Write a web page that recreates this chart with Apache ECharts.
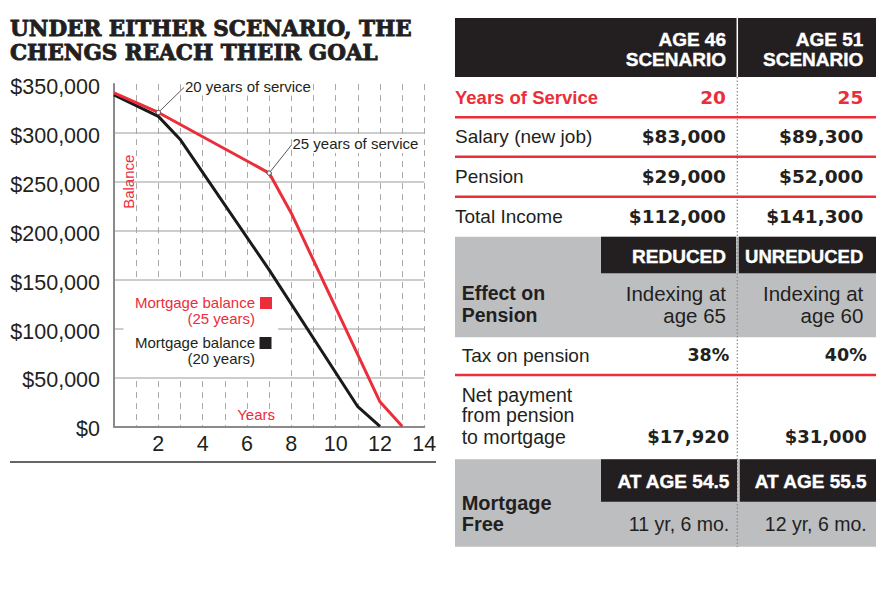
<!DOCTYPE html>
<html>
<head>
<meta charset="utf-8">
<script src="https://cdn.jsdelivr.net/npm/echarts@6/dist/echarts.min.js"></script>
<style>
  html, body { margin: 0; padding: 0; background: #fff; }
  #chart { width: 885px; height: 600px; }
</style>
</head>
<body>
<div id="chart"></div>
<script>
// ---------- data ----------
const titleLines = ['UNDER EITHER SCENARIO, THE', 'CHENGS REACH THEIR GOAL'];
const red25Years = [0, 2, 7, 8, 12, 13];
const red25Balance = [341000, 321000, 259000, 218000, 25000, 0];
const black20Years = [0, 2, 3, 7, 11, 12];
const black20Balance = [339000, 317000, 293000, 160000, 20000, 0];
const seriesNames = ['Mortgage balance (25 years)', 'Mortgage balance (20 years)'];
const legendLines25 = ['Mortgage balance', '(25 years)'];
const legendLines20 = ['Mortgage balance', '(20 years)'];
const annot20 = '20 years of service';
const annot25 = '25 years of service';
const xTickLabels = ['2', '4', '6', '8', '10', '12', '14'];
const yAxisName = 'Balance';
const xAxisName = 'Years';

const topHeads = [['AGE 46', 'SCENARIO'], ['AGE 51', 'SCENARIO']];
const topRowLabels = ['Years of Service', 'Salary (new job)', 'Pension', 'Total Income'];
const age46Values = ['20', '$83,000', '$29,000', '$112,000'];
const age51Values = ['25', '$89,300', '$52,000', '$141,300'];
const effectHeads = ['REDUCED', 'UNREDUCED'];
const effectLabel = ['Effect on', 'Pension'];
const effectValues = [['Indexing at', 'age 65'], ['Indexing at', 'age 60']];
const taxLabel = 'Tax on pension';
const taxValues = ['38%', '40%'];
const netLabel = ['Net payment', 'from pension', 'to mortgage'];
const netValues = ['$17,920', '$31,000'];
const freeHeads = ['AT AGE 54.5', 'AT AGE 55.5'];
const freeLabel = ['Mortgage', 'Free'];
const freeValues = ['11 yr, 6 mo.', '12 yr, 6 mo.'];

// ---------- styles ----------
const RED = '#ec2d3a';
const DARK = '#231f20';
const GRAY = '#bcbec0';
const SANS = '"Liberation Sans", Arial, sans-serif';
const NUM = '"DejaVu Sans", sans-serif';

function txt(text, x, y, font, fill, align, z, strokeW) {
  const st = { text: text, x: x, y: y, font: font, fill: fill,
    align: align || 'left', textAlign: align || 'left',
    verticalAlign: 'middle', textVerticalAlign: 'middle' };
  if (strokeW) { st.stroke = fill; st.lineWidth = strokeW; }
  return { type: 'text', z: z || 10, style: st };
}
function rect(x, y, w, h, fill, z) {
  return { type: 'rect', z: z || 5, shape: { x: x, y: y, width: w, height: h }, style: { fill: fill } };
}
function hline(x1, x2, y, color, w, z) {
  return { type: 'line', z: z || 6, shape: { x1: x1, y1: y, x2: x2, y2: y }, style: { stroke: color, lineWidth: w } };
}

// ---------- table graphics ----------
const g = [];
// title
g.push(txt(titleLines[0], 10, 28, 'bold 21.5px "DejaVu Serif", serif', DARK, 'left', 10, 0.9));
g.push(txt(titleLines[1], 10, 52.5, 'bold 21.5px "DejaVu Serif", serif', DARK, 'left', 10, 0.9));
// rule under chart
g.push(hline(10, 436, 462, '#333', 1.5));

const TL = 455, TR = 876, DIV = 737.3;
const C1 = 726, C2 = 863.3, C1b = 729.3, C2b = 866.7;
// dotted divider
g.push({ type: 'line', z: 7, shape: { x1: DIV, y1: 77, x2: DIV, y2: 547 }, style: { stroke: '#888', lineWidth: 1.2, lineDash: [1.5, 2] } });
// top header
g.push(rect(TL, 18, TR - TL, 59, DARK, 8));
g.push({ type: 'line', z: 9, shape: { x1: DIV, y1: 18, x2: DIV, y2: 77 }, style: { stroke: '#fff', lineWidth: 1.5 } });
const headFont = 'bold 19px ' + SANS;
[C1, C2].forEach((cx, i) => {
  g.push(txt(topHeads[i][0], cx, 39.5, headFont, '#fff', 'right', 10, 0.4));
  g.push(txt(topHeads[i][1], cx, 59.5, headFont, '#fff', 'right', 10, 0.4));
});
const rowY = [97.3, 136.7, 176.7, 216.7];
topRowLabels.forEach((lab, i) => {
  const isRed = i === 0;
  g.push(txt(lab, TL, rowY[i], (isRed ? 'bold 18.5px ' : '19px ') + SANS, isRed ? RED : DARK, 'left'));
  g.push(txt(age46Values[i], C1, rowY[i], 'bold 18.5px ' + NUM, isRed ? RED : DARK, 'right'));
  g.push(txt(age51Values[i], C2, rowY[i], 'bold 18.5px ' + NUM, isRed ? RED : DARK, 'right'));
});
[117.3, 156.7, 196.7].forEach(y => g.push(hline(TL, TR, y, RED, 2.5, 8)));

// effect band
g.push(rect(TL, 236.7, TR - TL, 100.6, GRAY, 4));
g.push(rect(601, 236.7, 135, 36.6, DARK, 8));
g.push(rect(738.8, 236.7, TR - 738.8, 36.6, DARK, 8));
g.push(txt(effectHeads[0], C1, 256, headFont, '#fff', 'right', 10, 0.4));
g.push(txt(effectHeads[1], C2, 256, 'bold 18.5px ' + SANS, '#fff', 'right', 10, 0.4));
g.push(txt(effectLabel[0], 461.7, 293.3, 'bold 19.5px ' + SANS, DARK, 'left'));
g.push(txt(effectLabel[1], 461.7, 315, 'bold 19.5px ' + SANS, DARK, 'left'));
[C1, C2].forEach((cx, i) => {
  g.push(txt(effectValues[i][0], cx, 293.3, '20.5px ' + SANS, DARK, 'right'));
  g.push(txt(effectValues[i][1], cx, 315, '20.5px ' + SANS, DARK, 'right'));
});
// tax row
g.push(txt(taxLabel, 461.7, 355, '19px ' + SANS, DARK, 'left'));
g.push(txt(taxValues[0], C1b, 355, 'bold 17.5px ' + NUM, DARK, 'right'));
g.push(txt(taxValues[1], C2b, 355, 'bold 17.5px ' + NUM, DARK, 'right'));
g.push(hline(TL, TR, 375, RED, 2.5, 8));
// net payment
[395, 415, 436.7].forEach((y, i) => g.push(txt(netLabel[i], 461.7, y, '19.5px ' + SANS, DARK, 'left')));
g.push(txt(netValues[0], C1b, 436.7, 'bold 18px ' + NUM, DARK, 'right'));
g.push(txt(netValues[1], C2b, 436.7, 'bold 18px ' + NUM, DARK, 'right'));
// mortgage free band
g.push(rect(TL, 459.3, TR - TL, 87.4, GRAY, 4));
g.push(rect(601, 459.3, 136, 42.4, DARK, 8));
g.push(rect(739.8, 459.3, TR - 739.8, 42.4, DARK, 8));
g.push(txt(freeHeads[0], C1b, 481.7, headFont, '#fff', 'right', 10, 0.4));
g.push(txt(freeHeads[1], C2b, 481.7, headFont, '#fff', 'right', 10, 0.4));
g.push(txt(freeLabel[0], 461.7, 503.3, 'bold 20px ' + SANS, DARK, 'left'));
g.push(txt(freeLabel[1], 461.7, 524, 'bold 20px ' + SANS, DARK, 'left'));
g.push(txt(freeValues[0], C1b, 524, '19.5px ' + SANS, DARK, 'right'));
g.push(txt(freeValues[1], C2b, 524, '19.5px ' + SANS, DARK, 'right'));

// chart inner labels / legend
g.push(rect(123.5, 281, 154.5, 96, '#fff', 1));
g.push(txt(legendLines25[0], 255, 302, '15px ' + SANS, RED, 'right'));
g.push(txt(legendLines25[1], 255, 318, '15px ' + SANS, RED, 'right'));
g.push(rect(260, 297, 12, 12, RED, 10));
g.push(txt(legendLines20[0], 255, 342, '15px ' + SANS, DARK, 'right'));
g.push(txt(legendLines20[1], 255, 358, '15px ' + SANS, DARK, 'right'));
g.push(rect(259.5, 337, 12, 12, DARK, 10));
g.push({ type: 'text', z: 10, x: 128.5, y: 181.7, rotation: Math.PI / 2,
  style: { text: yAxisName, x: 0, y: 0, font: '15px ' + SANS, fill: RED,
    align: 'center', textAlign: 'center', verticalAlign: 'middle', textVerticalAlign: 'middle' } });
g.push(txt(xAxisName, 275, 414, '15px ' + SANS, RED, 'right'));

const chart = echarts.init(document.getElementById('chart'), null, { renderer: 'svg' });
const option = {
  animation: false,
  backgroundColor: '#fff',
  grid: { left: 114, right: 460.7, top: 84.1, bottom: 173.7, containLabel: false, outerBoundsMode: 'none' },
  xAxis: {
    type: 'value', min: 0, max: 14, interval: 1,
    axisLine: { show: true, onZero: false, lineStyle: { color: '#8a8a8a', width: 2 } },
    axisTick: { show: false },
    axisLabel: {
      margin: 7, fontSize: 21.5, color: DARK, fontFamily: SANS,
      formatter: v => (xTickLabels.indexOf(String(v)) >= 0 ? String(v) : '')
    },
    splitLine: { show: true, showMinLine: false, lineStyle: { color: '#a8a8a8', width: 1, type: [6, 5] } }
  },
  yAxis: {
    type: 'value', min: 0, max: 350000, interval: 50000,
    axisLine: { show: true, lineStyle: { color: '#8a8a8a', width: 2 } },
    axisTick: { show: false },
    axisLabel: {
      margin: 14, color: DARK,
      formatter: v => '{v|$' + v.toLocaleString('en-US') + '}',
      rich: { v: { fontSize: 21.5, fontFamily: SANS, color: DARK, padding: [6, 0, 0, 0] } }
    },
    splitLine: { show: true, showMaxLine: false, showMinLine: false, lineStyle: { color: '#bdbdbd', width: 1.5 } }
  },
  series: [
    {
      name: seriesNames[1], type: 'line', z: 3, showSymbol: false, silent: true,
      data: black20Years.map((x, i) => [x, black20Balance[i]]),
      lineStyle: { color: '#1a1a1a', width: 3 }, itemStyle: { color: '#1a1a1a' }
    },
    {
      name: seriesNames[0], type: 'line', z: 4, showSymbol: false, silent: true,
      data: red25Years.map((x, i) => [x, red25Balance[i]]),
      lineStyle: { color: RED, width: 3 }, itemStyle: { color: RED }
    }
  ],
  graphic: { elements: g }
};
chart.setOption(option);

// annotations anchored on the data points through the axes
const p20 = chart.convertToPixel({ gridIndex: 0 }, [red25Years[1], red25Balance[1]]);
const p25 = chart.convertToPixel({ gridIndex: 0 }, [red25Years[2], red25Balance[2]]);
const ann = [];
function leader(p, tx, ty, label) {
  ann.push({ type: 'line', z: 20, shape: { x1: p[0], y1: p[1], x2: tx, y2: ty }, style: { stroke: '#444', lineWidth: 0.9 } });
  ann.push({ type: 'circle', z: 21, shape: { cx: p[0], cy: p[1], r: 2.2 }, style: { fill: '#fff', stroke: '#444', lineWidth: 1 } });
  ann.push({ type: 'rect', z: 19, shape: { x: tx + 1, y: ty - 11, width: 128, height: 19 }, style: { fill: '#fff' } });
  ann.push(txt(label, tx + 1, ty - 1.5, '15px ' + SANS, DARK, 'left', 22));
}
leader(p20, 184, 87.5, annot20);
leader(p25, 291.5, 145, annot25);
chart.setOption({ graphic: { elements: g.concat(ann) } });
</script>
</body>
</html>
